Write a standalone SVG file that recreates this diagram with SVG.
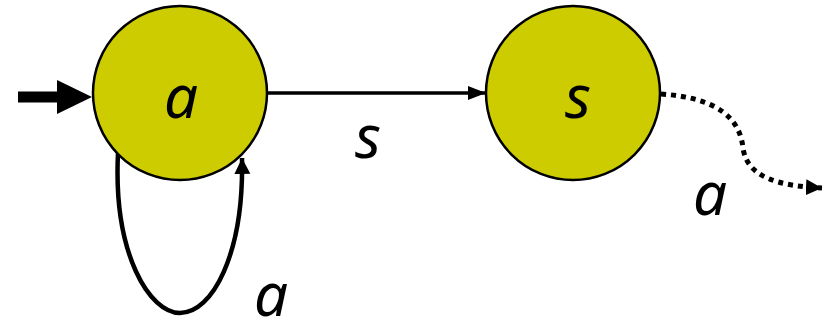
<svg xmlns="http://www.w3.org/2000/svg" width="829" height="320" viewBox="0 0 829 320">
<style>
.node{fill:#CCCC00;stroke:#000;stroke-width:2.5}
.lbl{font-family:"Noto Sans",sans-serif;font-style:italic;font-size:60px;fill:#000;text-anchor:middle}
.edge{fill:none;stroke:#000}
</style>
<defs>
<marker id="ah" markerUnits="userSpaceOnUse" markerWidth="20" markerHeight="16" refX="18" refY="7" orient="auto"><path d="M0,0 L18,7 L0,14 Z" fill="#000"/></marker>
<marker id="ahs" markerUnits="userSpaceOnUse" markerWidth="20" markerHeight="18" refX="16" refY="8" orient="auto"><path d="M0,0 L16,8 L0,16 Z" fill="#000"/></marker>
</defs>
<g id="connectors">
<path class="edge" d="M18,97 L60,97" stroke-width="11"/>
<path d="M57,80 L92,97 L57,114 Z" fill="#000"/>
<path class="edge" d="M267,93 L486,93" stroke-width="3.5" marker-end="url(#ah)"/>
<path class="edge" d="M118,153 C113,255 150,313 180,313 C212,313 244,255 242,158" stroke-width="4.5" marker-end="url(#ahs)"/>
<path class="edge" d="M661,94 C720,98 740,120 743,148 C747,178 780,186 822,188" stroke-width="5" stroke-dasharray="5 5" marker-end="url(#ahs)"/>
<text class="lbl" x="271" y="316">a</text>
<text class="lbl" x="368" y="158">s</text>
<text class="lbl" x="710" y="215">a</text>
</g>
<g id="node-a">
<circle class="node" cx="180" cy="93" r="87"/>
<text class="lbl" x="181" y="118">a</text>
</g>
<g id="node-s">
<circle class="node" cx="573" cy="93" r="87"/>
<text class="lbl" x="578" y="118">s</text>
</g>
</svg>
